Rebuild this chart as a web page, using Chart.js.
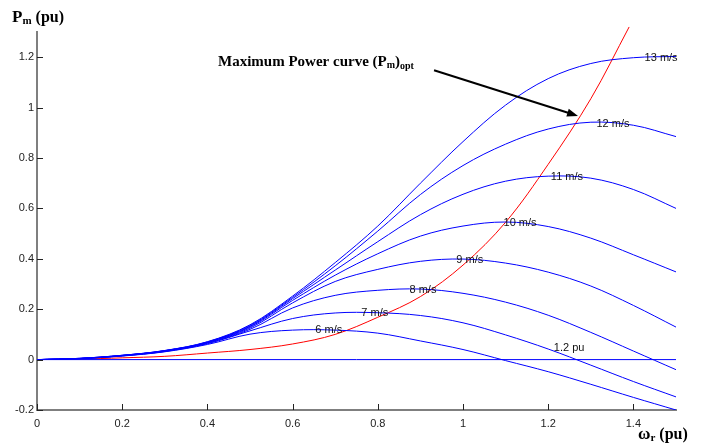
<!DOCTYPE html>
<html>
<head>
<meta charset="utf-8">
<script src="https://cdn.jsdelivr.net/npm/chart.js@4.4.1/dist/chart.umd.min.js"></script>
<style>
  html, body { margin: 0; padding: 0; background: #fff; }
  #wrap { width: 715px; height: 445px; position: relative; }
</style>
</head>
<body>
<div id="wrap"><canvas id="chart"></canvas></div>
<script>
// Turbine power vs rotor speed, one curve per wind speed

const omega = [0, 0.1, 0.2, 0.3, 0.4, 0.5, 0.6, 0.7, 0.8, 0.9, 1.0, 1.1, 1.2, 1.3, 1.4, 1.5];

const windSpeeds = ["6 m/s", "7 m/s", "8 m/s", "9 m/s", "10 m/s", "11 m/s", "12 m/s", "13 m/s"];

const pm6  = [0, 0.004, 0.014, 0.031, 0.060, 0.101, 0.117, 0.117, 0.105, 0.074, 0.040, -0.004, -0.048, -0.098, -0.150, -0.200];
const pm7  = [0, 0.004, 0.015, 0.032, 0.063, 0.114, 0.163, 0.185, 0.186, 0.175, 0.146, 0.098, 0.042, -0.022, -0.087, -0.148];
const pm8  = [0, 0.004, 0.015, 0.033, 0.065, 0.120, 0.205, 0.255, 0.275, 0.280, 0.263, 0.228, 0.176, 0.108, 0.034, -0.040];
const pm9  = [0, 0.004, 0.016, 0.034, 0.067, 0.125, 0.225, 0.310, 0.358, 0.390, 0.399, 0.383, 0.347, 0.292, 0.215, 0.129];
const pm10 = [0, 0.004, 0.016, 0.035, 0.068, 0.129, 0.235, 0.335, 0.420, 0.490, 0.530, 0.546, 0.528, 0.482, 0.416, 0.348];
const pm11 = [0, 0.005, 0.017, 0.035, 0.069, 0.132, 0.242, 0.355, 0.468, 0.575, 0.656, 0.708, 0.728, 0.720, 0.675, 0.600];
const pm12 = [0, 0.005, 0.017, 0.036, 0.070, 0.135, 0.247, 0.372, 0.510, 0.655, 0.770, 0.855, 0.915, 0.942, 0.930, 0.885];
const pm13 = [0, 0.005, 0.017, 0.036, 0.071, 0.138, 0.252, 0.385, 0.530, 0.700, 0.865, 1.010, 1.115, 1.175, 1.198, 1.203];

const optOmega = [0, 0.1, 0.2, 0.3, 0.4, 0.5, 0.6, 0.7, 0.8, 0.9, 1.0, 1.1, 1.2, 1.3, 1.39];
const optPm    = [0, 0.002, 0.007, 0.013, 0.026, 0.040, 0.062, 0.100, 0.168, 0.250, 0.375, 0.545, 0.775, 1.035, 1.320];

// where each wind speed label sits (data coords)
const labelOmega = [0.685, 0.793, 0.906, 1.016, 1.134, 1.244, 1.352, 1.465];
const labelPm    = [0.116, 0.187, 0.278, 0.396, 0.543, 0.724, 0.934, 1.195];

const xTicks = [0, 0.2, 0.4, 0.6, 0.8, 1, 1.2, 1.4];
const yTicks = [-0.2, 0, 0.2, 0.4, 0.6, 0.8, 1, 1.2];

function toPoints(xs, ys) {
    return xs.map((x, i) => ({ x: x, y: ys[i] }));
}

const windSeries = [pm6, pm7, pm8, pm9, pm10, pm11, pm12, pm13];

const datasets = windSeries.map((ys, i) => ({
    label: windSpeeds[i],
    data: toPoints(omega, ys),
    borderColor: "#0000ff",
    borderWidth: 1,
    pointRadius: 0,
    tension: 0.35
}));

datasets.push({
    label: "zero",
    data: toPoints([0, 1.5], [0, 0]),
    borderColor: "#0000ff",
    borderWidth: 1,
    pointRadius: 0
});

datasets.push({
    label: "opt",
    data: toPoints(optOmega, optPm),
    borderColor: "#ff0000",
    borderWidth: 1,
    pointRadius: 0,
    tension: 0.35,
    clip: false
});

function drawParts(ctx, x, y, parts) {
    // parts: [text, font, dy]
    parts.forEach(p => {
        ctx.font = p[1];
        ctx.fillText(p[0], x, y + (p[2] || 0));
        x += ctx.measureText(p[0]).width;
    });
}

const decorPlugin = {
    id: "decor",
    afterDatasetsDraw(chart) {
        const ctx = chart.ctx;
        const xs = chart.scales.x;
        const ys = chart.scales.y;
        const area = chart.chartArea;
        ctx.save();

        // inward tick marks
        ctx.strokeStyle = "#222";
        ctx.lineWidth = 1;
        xTicks.forEach(v => {
            const px = Math.round(xs.getPixelForValue(v)) + 0.5;
            ctx.beginPath();
            ctx.moveTo(px, area.bottom);
            ctx.lineTo(px, area.bottom - 6);
            ctx.stroke();
        });
        yTicks.forEach(v => {
            const py = Math.round(ys.getPixelForValue(v)) + 0.5;
            ctx.beginPath();
            ctx.moveTo(area.left, py);
            ctx.lineTo(area.left + 6, py);
            ctx.stroke();
        });

        // wind speed labels on the curves
        ctx.fillStyle = "#111";
        ctx.font = "11px 'Liberation Sans', Arial, sans-serif";
        ctx.textAlign = "center";
        ctx.textBaseline = "middle";
        windSpeeds.forEach((t, i) => {
            ctx.fillText(t, xs.getPixelForValue(labelOmega[i]), ys.getPixelForValue(labelPm[i]));
        });
        ctx.fillText("1.2 pu", xs.getPixelForValue(1.249), ys.getPixelForValue(0.048));

        // axis titles
        ctx.textAlign = "left";
        ctx.textBaseline = "alphabetic";
        ctx.fillStyle = "#000";
        const serifB = (s) => "bold " + s + "px 'Liberation Serif', 'Times New Roman', serif";
        drawParts(ctx, 12, 22, [["P", serifB(17)], ["m", serifB(11), 2], [" (pu)", serifB(16)]]);
        drawParts(ctx, 638, 439, [["\u03c9", serifB(17)], ["r", serifB(11), 2], [" (pu)", serifB(16)]]);

        // annotation text + arrow
        drawParts(ctx, 218, 66, [["Maximum Power curve (P", serifB(15)], ["m", serifB(10), 2], [")", serifB(15)], ["opt", serifB(10), 3]]);

        const x0 = xs.getPixelForValue(0.932), y0 = ys.getPixelForValue(1.148);
        const x1 = xs.getPixelForValue(1.27), y1 = ys.getPixelForValue(0.967);
        const ang = Math.atan2(y1 - y0, x1 - x0);
        ctx.strokeStyle = "#000";
        ctx.lineWidth = 2;
        ctx.beginPath();
        ctx.moveTo(x0, y0);
        ctx.lineTo(x1 - 8 * Math.cos(ang), y1 - 8 * Math.sin(ang));
        ctx.stroke();
        ctx.fillStyle = "#000";
        ctx.beginPath();
        ctx.moveTo(x1, y1);
        ctx.lineTo(x1 - 11 * Math.cos(ang) + 4 * Math.sin(ang), y1 - 11 * Math.sin(ang) - 4 * Math.cos(ang));
        ctx.lineTo(x1 - 11 * Math.cos(ang) - 4 * Math.sin(ang), y1 - 11 * Math.sin(ang) + 4 * Math.cos(ang));
        ctx.closePath();
        ctx.fill();

        ctx.restore();
    }
};

const tickFont = { family: "'Liberation Sans', Arial, sans-serif", size: 11 };

new Chart(document.getElementById("chart"), {
    type: "line",
    data: { datasets: datasets },
    options: {
        responsive: true,
        maintainAspectRatio: false,
        animation: false,
        devicePixelRatio: 1,
        layout: { padding: { left: 0, top: 32, right: 39, bottom: 0 } },
        plugins: {
            legend: { display: false },
            tooltip: { enabled: false }
        },
        scales: {
            x: {
                type: "linear",
                min: 0,
                max: 1.5,
                grid: { display: false, drawTicks: false },
                border: { display: true, color: "#7f7f7f", width: 2 },
                ticks: {
                    stepSize: 0.2,
                    includeBounds: false,
                    maxRotation: 0,
                    padding: 7,
                    color: "#222",
                    font: tickFont,
                    callback: v => String(Math.round(v * 10) / 10)
                },
                afterFit: scale => { scale.height = 35; }
            },
            y: {
                type: "linear",
                min: -0.2,
                max: 1.3,
                grid: { display: false, drawTicks: false },
                border: { display: true, color: "#7f7f7f", width: 2 },
                ticks: {
                    stepSize: 0.2,
                    includeBounds: false,
                    padding: 3,
                    color: "#222",
                    font: tickFont,
                    callback: v => String(Math.round(v * 10) / 10)
                },
                afterFit: scale => { scale.width = 37; }
            }
        }
    },
    plugins: [decorPlugin]
});
</script>
</body>
</html>
